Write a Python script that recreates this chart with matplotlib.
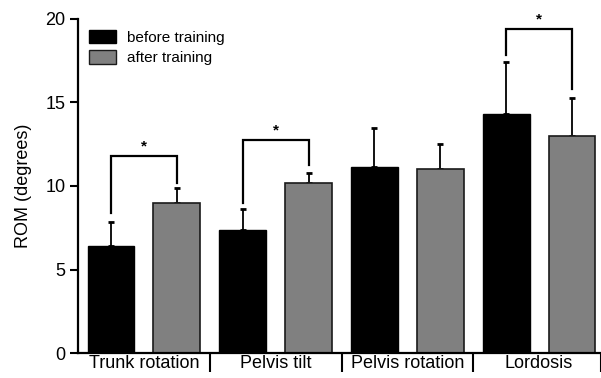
import numpy as np
import matplotlib
matplotlib.use("Agg")
import matplotlib.pyplot as plt
from matplotlib.patches import Patch

plt.rcParams['font.family'] = ['Liberation Sans', 'DejaVu Sans']

categories = ['Trunk rotation', 'Pelvis tilt', 'Pelvis rotation', 'Lordosis']
before = [6.42, 7.37, 11.15, 14.3]
before_sd = [1.45, 1.27, 2.33, 3.15]
after = [8.96, 10.2, 11.0, 13.0]
after_sd = [0.9, 0.55, 1.5, 2.28]
# brackets: (category index, bracket height, left leg end, right leg end)
sig = [(0, 11.8, 8.4, 10.2), (1, 12.75, 9.0, 11.25), (3, 19.4, 17.85, 15.8)]

fig = plt.figure(figsize=(6.01, 3.78), dpi=100)
ax = fig.add_axes([0.13, 0.066, 0.87, 0.884])

x = np.arange(len(categories))
w = 0.356
off = 0.25
ax.bar(x - off, before, w, color='black', edgecolor='black', linewidth=1, zorder=2)
ax.bar(x + off, after, w, color='#808080', edgecolor='#1a1a1a', linewidth=1.2, zorder=2)
ax.errorbar(x - off, before, yerr=[np.zeros(4), before_sd], fmt='none', ecolor='black',
            elinewidth=1.3, capsize=2.5, capthick=2, zorder=1)
ax.errorbar(x + off, after, yerr=[np.zeros(4), after_sd], fmt='none', ecolor='black',
            elinewidth=1.3, capsize=2.5, capthick=2, zorder=1)

for i, h, l, r in sig:
    ax.plot([i - off, i - off, i + off, i + off], [l, h, h, r], color='black', lw=1.6,
            clip_on=False, solid_joinstyle='miter')
    ax.text(i, h + 0.55, '*', ha='center', va='center', fontsize=11, fontweight='bold',
            clip_on=False)

ax.set_xlim(-0.5, 3.47)
ax.set_ylim(0, 20)
ax.set_yticks([0, 5, 10, 15, 20])
ax.set_xticks(x)
ax.set_xticklabels(categories, fontsize=13)
ax.set_xticks([0.5, 1.5, 2.5, 3.47], minor=True)
ax.tick_params(axis='x', which='major', length=0, pad=1.5)
ax.tick_params(axis='x', which='minor', length=14, width=1.5, direction='out')
ax.tick_params(axis='y', length=6, width=1.5, labelsize=13, pad=3)
ax.set_ylabel('ROM (degrees)', fontsize=13, labelpad=10)

for s in ['top', 'right']:
    ax.spines[s].set_visible(False)
for s in ['left', 'bottom']:
    ax.spines[s].set_linewidth(1.6)

handles = [Patch(facecolor='black', edgecolor='black', label='before training'),
           Patch(facecolor='#808080', edgecolor='#1a1a1a', label='after training')]
ax.legend(handles=handles, loc='upper left', bbox_to_anchor=(0.0, 1.0), frameon=False,
          fontsize=11, handlelength=1.8, handleheight=1.0, handletextpad=0.7,
          labelspacing=0.35, borderaxespad=0.3)

fig.savefig('out.png', dpi=100)
